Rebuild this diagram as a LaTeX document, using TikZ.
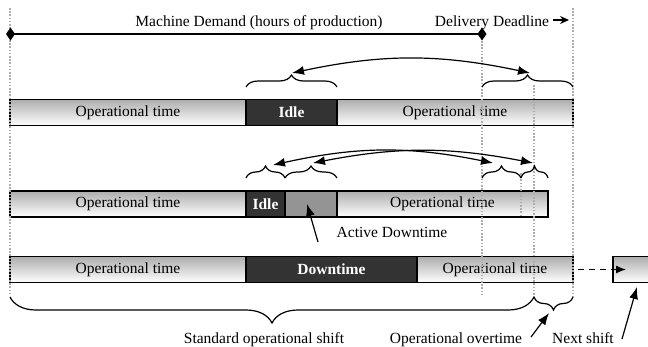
\documentclass[tikz,border=0pt]{standalone}
\usepackage{fontspec}
\setmainfont{Liberation Serif}
\usetikzlibrary{arrows.meta,decorations.pathreplacing}

\begin{document}
\begin{tikzpicture}[x=1pt,y=-1pt,
  font=\fontsize{15.5}{18}\selectfont,
  seg/.style={draw=black, line width=1.3pt, anchor=west, minimum height=26pt,
    inner sep=0pt, outer sep=0pt},
  optime/.style={seg, top color=black!32, bottom color=white},
  darkseg/.style={seg, fill=black!80, text=white,
    font=\fontsize{15.5}{18}\selectfont\bfseries},
  actseg/.style={seg, fill=black!42},
  guide/.style={draw=black!32, line width=1.8pt, dash pattern=on 1.6pt off 1.6pt},
  bracetop/.style={draw, line width=1.2pt, decorate,
    decoration={brace, amplitude=12pt}},
  link/.style={draw, line width=1.2pt, {Latex[length=12pt,width=9pt]}-{Latex[length=12pt,width=9pt]}},
  pointer/.style={draw, line width=1.2pt, -{Latex[length=12pt,width=9pt]}},
  lbl/.style={anchor=base, inner sep=0pt}
]
\useasboundingbox (0,0) rectangle (648,346);

% ---- row 1 ----
\node[optime, minimum width=236pt] (a1) at (10,112.5) {Operational time};
\node[darkseg, minimum width=91pt] (a2) at (a1.east) {Idle};
\node[optime, minimum width=236pt] (a3) at (a2.east) {Operational time};

% ---- row 2 ----
\node[optime, minimum width=236pt] (b1) at (10,204) {Operational time};
\node[darkseg, minimum width=39pt] (b2) at (b1.east) {Idle};
\node[actseg, minimum width=52pt] (b3) at (b2.east) {};
\node[optime, minimum width=211pt] (b4) at (b3.east) {Operational time};

% ---- row 3 ----
\node[optime, minimum width=236pt] (c1) at (10,269.5) {Operational time};
\node[darkseg, minimum width=171pt] (c2) at (c1.east) {Downtime};
\node[optime, minimum width=156pt] (c3) at (c2.east) {Operational time};
\node[optime, minimum width=60pt] (next) at (613,269.5) {};

% ---- guide lines ----
\draw[guide] (10,8) -- (10,293);
\draw[guide] (482,41) -- (482,295);
\draw[guide] (534,85) -- (534,297);
\draw[guide] (573,8) -- (573,297);
\draw[guide] (521,173) -- (521,217);

% ---- machine demand span, diamond end marks ----
\coordinate (d1) at (10.5,34);
\coordinate (d2) at (482,34);
\draw[line width=1.3pt] (d1) -- (d2);
\foreach \p in {d1,d2}
  \fill (\p) ++(-4.5,0) -- ++(4.5,-6.5) -- ++(4.5,6.5) -- ++(-4.5,6.5) -- cycle;
\node[lbl] (demand) at (259,26) {Machine Demand (hours of production)};
\node[lbl] (deadline) at (492,26) {Delivery Deadline};
\coordinate (deadlineend) at (569,20);
\draw[line width=1.2pt, -{Stealth[length=9pt,width=8pt]}] (deadline.east |- deadlineend) ++(4,0) -- (deadlineend);

% ---- braces row 1 ----
\draw[bracetop] (246,87) -- (337,87);
\draw[bracetop] (482,87) -- (573,87);
\coordinate (t1l) at (292,73);
\coordinate (t1r) at (530,73);
\draw[link] (t1l) to[bend left=12] (t1r);

% ---- braces row 2 ----
\draw[bracetop] (246,178) -- (285,178);
\draw[bracetop] (285,178) -- (337,178);
\draw[bracetop] (482,178) -- (521,178);
\draw[bracetop] (521,178) -- (548,178);
\coordinate (t2a) at (273,165);
\coordinate (t2b) at (313,163);
\coordinate (t2c) at (493,163);
\coordinate (t2d) at (533,163);
\draw[link] (t2a) to[bend left=12] (t2c);
\draw[link] (t2b) to[bend left=11] (t2d);

% ---- active downtime label ----
\node[lbl] (active) at (392,237) {Active Downtime};
\coordinate (acttail) at (318,242);
\coordinate (acthead) at (307,204);
\draw[pointer] (acttail) -- (acthead);

% ---- next shift link ----
\coordinate (nexttip) at (626,269.5);
\draw[line width=1.2pt, dash pattern=on 6pt off 5pt, -{Latex[length=10pt,width=8pt]}]
  ([xshift=5pt]c3.east) -- (nexttip);

% ---- bottom braces ----
\draw[line width=1.2pt, decorate, decoration={brace, amplitude=26pt}] (534,297) -- (10,297);
\draw[line width=1.2pt, decorate, decoration={brace, amplitude=13pt}] (573,297) -- (534,297);

% ---- bottom labels ----
\node[lbl] (standard) at (264,343) {Standard operational shift};
\node[lbl] (overtime) at (456,343) {Operational overtime};
\node[lbl] (nextlbl) at (583,343) {Next shift};
\coordinate (ottail) at (531,337);
\coordinate (othead) at (549,313);
\draw[pointer] (ottail) -- (othead);
\coordinate (nstail) at (622,339);
\coordinate (nshead) at (637,287);
\draw[pointer] (nstail) -- (nshead);
\end{tikzpicture}
\end{document}
